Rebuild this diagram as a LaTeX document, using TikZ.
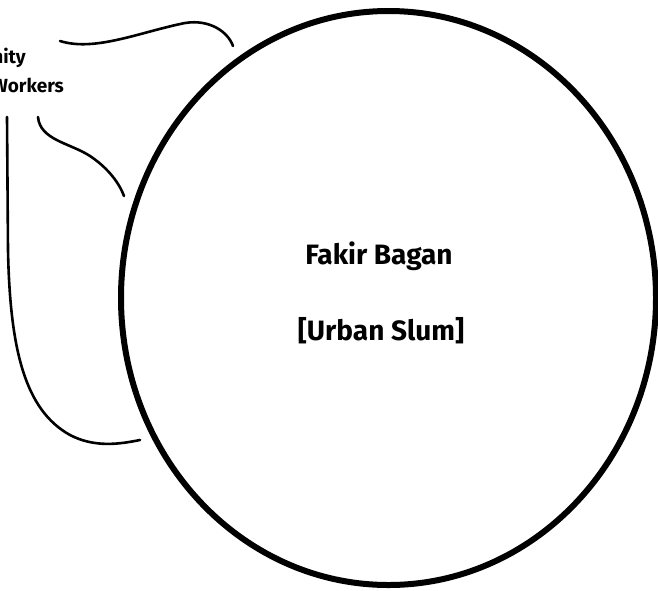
\documentclass[tikz,border=0pt]{standalone}
\usepackage{fontspec}
\setmainfont{Fira Sans}
\usetikzlibrary{shapes.geometric}
\begin{document}
\begin{tikzpicture}[x=1pt,y=-1pt,
  thinline/.style={line width=2.6pt,line cap=round},
  bigtext/.style={font=\bfseries\fontsize{28}{32}\selectfont,inner sep=0pt},
  sidetext/.style={font=\bfseries\fontsize{19}{22}\selectfont,inner sep=0pt,anchor=base east}]
\useasboundingbox (0,0) rectangle (658,590);
\clip (0,0) rectangle (658,590);
\node[draw,ellipse,line width=6pt,minimum width=535pt,minimum height=574pt,inner sep=0pt] (slum) at (388.5,298) {};
\node[bigtext] (name) at (379,256) {Fakir Bagan};
\node[bigtext] (kind) at (381,331) {[Urban Slum]};
\node[sidetext] (l1) at (26,63) {Community};
\node[sidetext] (l2) at (64,92) {Workers};
\coordinate (a0) at (60,41);
\coordinate (a1) at (233,46);
\coordinate (b0) at (38,117);
\coordinate (b1) at (124,196);
\coordinate (c0) at (7,117);
\coordinate (c1) at (140,440);
\draw[thinline] (a0) .. controls (95,52) and (140,32) .. (185,23) .. controls (210,19) and (228,32) .. (a1);
\draw[thinline] (b0) .. controls (40,140) and (70,143) .. (90,156) .. controls (105,166) and (118,180) .. (b1);
\draw[thinline] (c0) -- (8,250) .. controls (10,350) and (25,410) .. (70,435) .. controls (95,448) and (120,444) .. (c1);
\end{tikzpicture}
\end{document}
